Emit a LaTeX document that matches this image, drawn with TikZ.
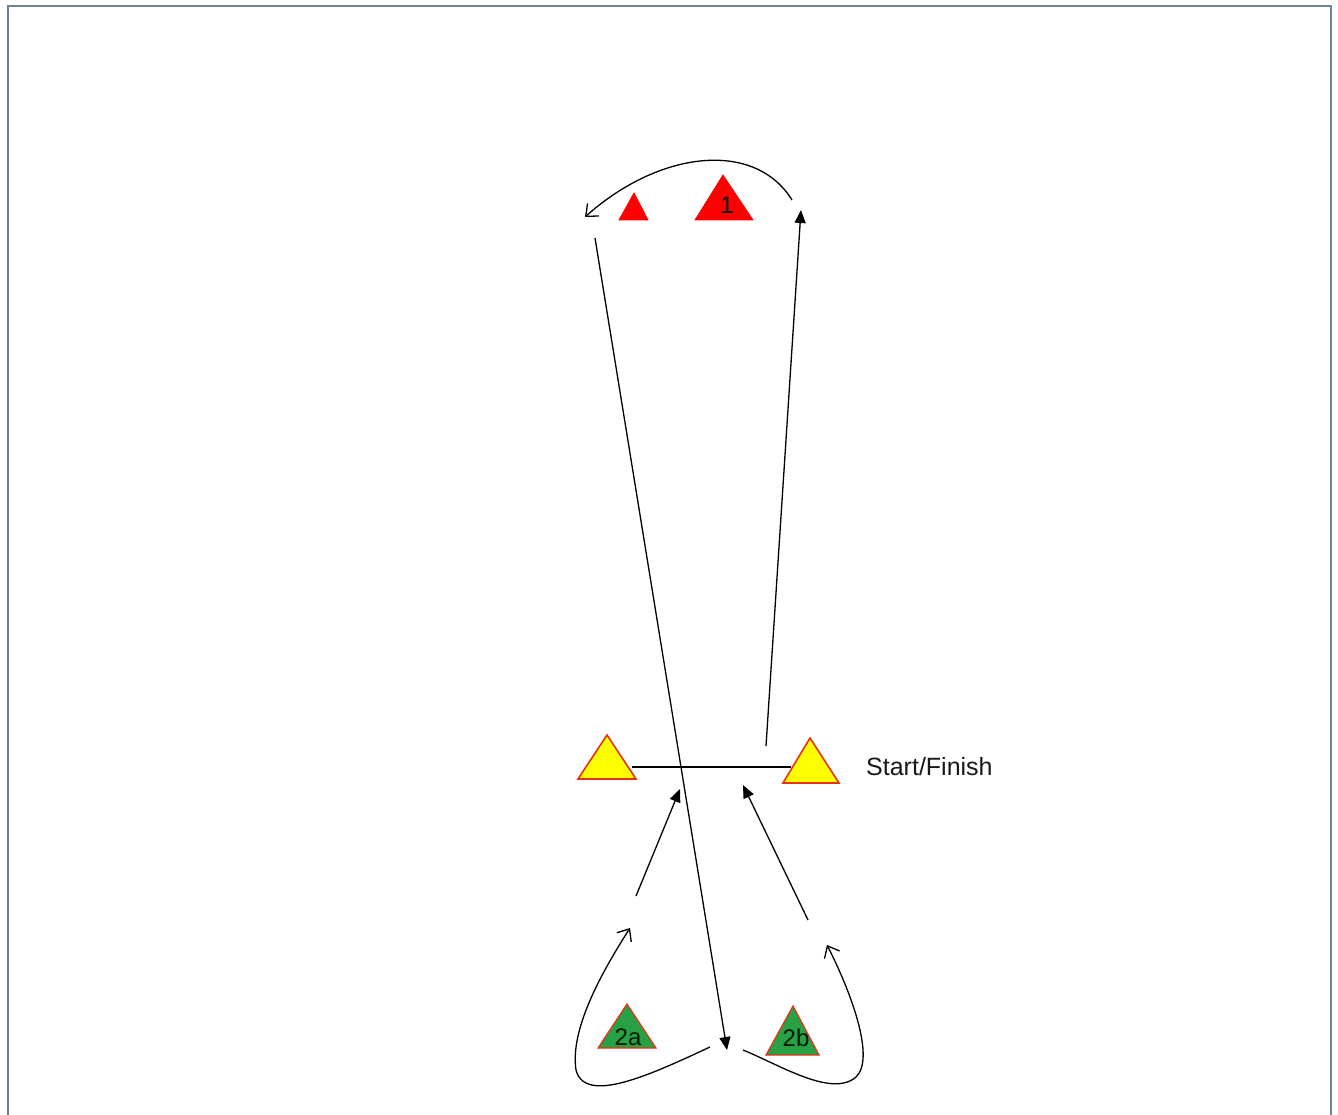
\documentclass[tikz,border=0pt]{standalone}
\usepackage{fontspec}
\setmainfont{Liberation Sans}
\usetikzlibrary{arrows.meta}
\definecolor{framecol}{RGB}{110,130,160}
\definecolor{conered}{RGB}{255,0,0}
\definecolor{coneyellow}{RGB}{255,255,0}
\definecolor{coneedge}{RGB}{230,50,20}
\definecolor{conegreen}{RGB}{40,160,70}
\begin{document}
\begin{tikzpicture}[x=1pt,y=-1pt,
  redcone/.style={fill=conered,draw=conered,line width=0.8},
  yellowcone/.style={fill=coneyellow,draw=coneedge,line width=1.6},
  greencone/.style={fill=conegreen,draw=coneedge,line width=1.2},
  runline/.style={draw=black,line width=1.3},
  solidhead/.style={runline,-{Triangle[length=13,width=11]}},
  openhead/.style={runline,-{Straight Barb[length=10,width=17,line width=1.3]}},
  conelabel/.style={inner sep=0pt,font=\fontsize{24}{24}\selectfont,text=black!90!green},
  sidelabel/.style={inner sep=0pt,font=\fontsize{25}{25}\selectfont,text=black!90}]
\useasboundingbox (0,0) rectangle (1338,1115);
\fill[white] (0,0) rectangle (1338,1115);
\draw[framecol,line width=2.2] (8,6) rectangle (1331,1130);

% cones
\draw[redcone] (634,193) -- (648,220) -- (619,220) -- cycle;
\draw[redcone] (723,175) -- (753,220) -- (695,220) -- cycle;
\draw[yellowcone] (607,735) -- (636,779) -- (578,779) -- cycle;
\draw[yellowcone] (810,738) -- (839,783) -- (783,783) -- cycle;
\draw[greencone] (627,1004) -- (656,1048) -- (598,1048) -- cycle;
\draw[greencone] (793,1006) -- (819,1055) -- (766,1055) -- cycle;

% labels
\node[conelabel] (one) at (727,205) {1};
\node[conelabel] (twoa) at (628,1037) {2a};
\node[conelabel] (twob) at (796,1038) {2b};
\node[sidelabel,anchor=base west] (sf) at (866,775) {Start/Finish};

% connector end points
\coordinate (ylr) at (632,767);
\coordinate (yrl) at (791,767);
\coordinate (diagtop) at (595,238);
\coordinate (diagbot) at (727,1050);
\coordinate (uptail) at (766,746);
\coordinate (uptip) at (801,210);
\coordinate (arcstart) at (792,200);
\coordinate (arcend) at (585,217);
\coordinate (atail) at (636,896);
\coordinate (atip) at (680,789);
\coordinate (btail) at (808,920);
\coordinate (btip) at (743,785);
\coordinate (lstart) at (710,1047);
\coordinate (lmid) at (576,1070);
\coordinate (ltip) at (630,928);
\coordinate (rstart) at (743,1050);
\coordinate (rmid) at (856,1077);
\coordinate (rtip) at (827,945);

% connectors
\draw[runline] (ylr) -- (yrl);
\draw[solidhead] (diagtop) -- (diagbot);
\draw[solidhead] (uptail) -- (uptip);
\draw[openhead] (arcstart) .. controls (755,140) and (660,150) .. (arcend);
\draw[solidhead] (atail) -- (atip);
\draw[solidhead] (btail) -- (btip);
\draw[openhead] (lstart) .. controls (650,1075) and (585,1105) .. (lmid)
  .. controls (570,1030) and (600,975) .. (ltip);
\draw[openhead] (rstart) .. controls (780,1065) and (832,1098) .. (rmid)
  .. controls (876,1058) and (850,990) .. (rtip);
\end{tikzpicture}
\end{document}
